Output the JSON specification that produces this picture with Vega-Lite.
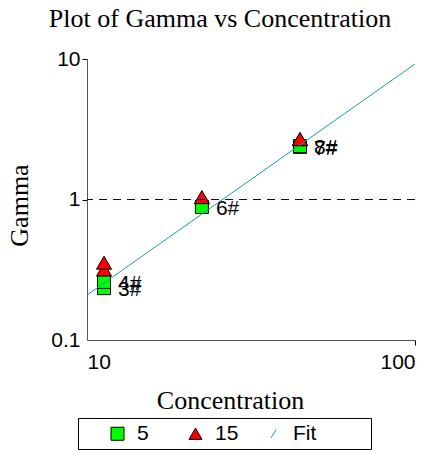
{
  "$schema": "https://vega.github.io/schema/vega-lite/v6.json",
  "width": 328,
  "height": 281,
  "autosize": "none",
  "padding": {"left": 87, "top": 59, "right": 19, "bottom": 113},
  "background": "white",
  "title": {
    "text": "Plot of Gamma vs Concentration",
    "font": "Liberation Serif",
    "fontSize": 26,
    "fontWeight": "normal",
    "color": "black",
    "anchor": "middle",
    "frame": "group",
    "baseline": "alphabetic",
    "dx": -31,
    "offset": -5
  },
  "datasets": {
    "points": [
      {"conc": 11.27, "gamma": 0.234, "series": "5", "label": "3#"},
      {"conc": 11.27, "gamma": 0.259, "series": "5", "label": "4#"},
      {"conc": 22.4, "gamma": 0.885, "series": "5", "label": "6#"},
      {"conc": 44.6, "gamma": 2.37, "series": "5", "label": "7#"},
      {"conc": 44.6, "gamma": 2.40, "series": "5", "label": "8#"},
      {"conc": 11.27, "gamma": 0.317, "series": "15", "label": "3#"},
      {"conc": 11.27, "gamma": 0.355, "series": "15", "label": "4#"},
      {"conc": 22.4, "gamma": 1.04, "series": "15", "label": "6#"},
      {"conc": 44.6, "gamma": 2.68, "series": "15", "label": "7#"},
      {"conc": 44.6, "gamma": 2.70, "series": "15", "label": "8#"}
    ],
    "fit": [
      {"conc": 10, "gamma": 0.209},
      {"conc": 100, "gamma": 9.22}
    ],
    "ref": [
      {"gamma": 1}
    ]
  },
  "encoding": {
    "x": {
      "field": "conc",
      "type": "quantitative",
      "scale": {"type": "log", "domain": [10, 100], "nice": false},
      "axis": {
        "title": "Concentration",
        "values": [10, 100],
        "format": "~g",
        "grid": false,
        "labelPadding": 6,
        "titleX": 143,
        "titleY": 68,
        "titleBaseline": "alphabetic",
        "tickColor": {"condition": {"test": "datum.value == 10", "value": "transparent"}, "value": "black"}
      }
    },
    "y": {
      "field": "gamma",
      "type": "quantitative",
      "scale": {"type": "log", "domain": [0.1, 10], "nice": false},
      "axis": {
        "title": "Gamma",
        "values": [0.1, 1, 10],
        "format": "~g",
        "grid": false,
        "titleX": -60,
        "titleY": 146,
        "titleBaseline": "alphabetic",
        "tickColor": {"condition": {"test": "datum.value == 0.1", "value": "transparent"}, "value": "black"}
      }
    }
  },
  "layer": [
    {
      "data": {"name": "points"},
      "transform": [{"filter": "datum.series == '5'"}],
      "mark": {"type": "point", "filled": true, "opacity": 1, "strokeWidth": 1, "size": 169},
      "encoding": {
        "fill": {
          "field": "series",
          "type": "nominal",
          "scale": {"domain": ["5", "15", "Fit"], "range": ["#00ff00", "#ff0000", "transparent"]},
          "legend": {
            "orient": "none",
            "legendX": -9,
            "legendY": 359,
            "direction": "horizontal",
            "title": "\u00a0",
            "titleOrient": "right",
            "titlePadding": 50,
            "titleFontSize": 21,
            "strokeColor": "black",
            "fillColor": "white",
            "padding": 5,
            "gridAlign": "all",
            "columnPadding": 0,
            "symbolOffset": 24,
            "labelOffset": 9,
            "labelFont": "Liberation Sans",
            "labelFontSize": 21,
            "labelColor": "black",
            "symbolSize": 169,
            "symbolStrokeWidth": 1
          }
        },
        "stroke": {
          "field": "series",
          "type": "nominal",
          "scale": {"domain": ["5", "15", "Fit"], "range": ["black", "black", "#1a9e9e"]}
        },
        "shape": {
          "field": "series",
          "type": "nominal",
          "scale": {"domain": ["5", "15", "Fit"], "range": ["square", "triangle-up", "M-0.4,0.65L0.4,-0.65"]}
        }
      }
    },
    {
      "data": {"name": "points"},
      "transform": [{"filter": "datum.series == '15'"}],
      "mark": {"type": "point", "filled": true, "opacity": 1, "strokeWidth": 1, "size": 225},
      "encoding": {
        "fill": {"field": "series", "type": "nominal"},
        "stroke": {"field": "series", "type": "nominal"},
        "shape": {"field": "series", "type": "nominal"}
      }
    },
    {
      "data": {"name": "ref"},
      "mark": {"type": "rule", "color": "#000080", "strokeWidth": 1, "strokeDash": [8, 6]},
      "encoding": {"x": null}
    },
    {
      "data": {"name": "fit"},
      "mark": {"type": "line", "color": "#1a9e9e", "strokeWidth": 1},
      "encoding": {}
    },
    {
      "data": {"name": "points"},
      "transform": [{"filter": "datum.series == '5'"}],
      "mark": {"type": "text", "align": "left", "baseline": "middle", "dx": 14, "dy": 2, "font": "Liberation Sans", "fontSize": 21, "color": "black"},
      "encoding": {"text": {"field": "label"}}
    }
  ],
  "config": {
    "view": {"stroke": null},
    "axis": {
      "domainColor": "#555",
      "domainWidth": 1,
      "tickSize": 5,
      "tickWidth": 1,
      "labelPadding": 2,
      "labelFont": "Liberation Sans",
      "labelFontSize": 21,
      "labelColor": "black",
      "titleFont": "Liberation Serif",
      "titleFontSize": 26,
      "titleFontWeight": "normal",
      "titleColor": "black"
    }
  }
}
